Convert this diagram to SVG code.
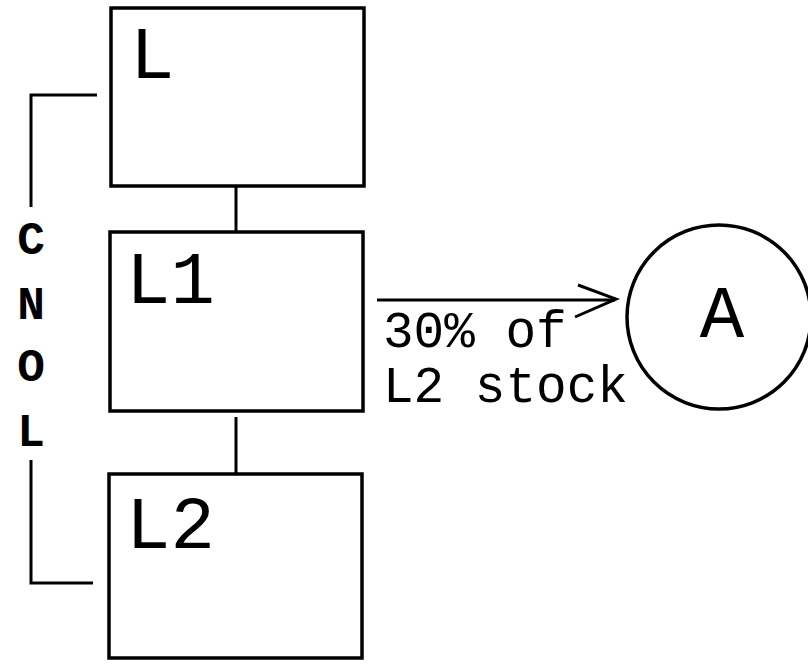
<svg xmlns="http://www.w3.org/2000/svg" width="808" height="664" viewBox="0 0 808 664">
<style>
.box{fill:#fff;stroke:#000;stroke-width:3.5}
.ln{fill:none;stroke:#000;stroke-width:3}
.big{font-family:"Liberation Mono","Courier New",monospace;font-size:74px;fill:#000}
.lab{font-family:"Liberation Mono","Courier New",monospace;font-size:51px;fill:#000}
.side{font-family:"Liberation Mono","Courier New",monospace;font-size:46px;font-weight:bold;fill:#000}
</style>
<rect width="808" height="664" fill="#fff"/>
<g id="connectors">
<line class="ln" x1="236" y1="183" x2="236" y2="232"/>
<line class="ln" x1="236" y1="417" x2="236" y2="474"/>
<polyline class="ln" points="97,95 31,95 31,207"/>
<polyline class="ln" points="31,460 31,583 93,583"/>
<line class="ln" x1="377" y1="300" x2="615" y2="300"/>
<polyline class="ln" stroke-width="4" points="578,285 616,299 575,317"/>
<text class="lab" x="383" y="347">30% of</text>
<text class="lab" x="383" y="402">L2 stock</text>
</g>
<g id="side-label">
<text class="side" x="31" y="254" text-anchor="middle">C</text>
<text class="side" x="31" y="319" text-anchor="middle">N</text>
<text class="side" x="31" y="381" text-anchor="middle">O</text>
<text class="side" x="31" y="446" text-anchor="middle">L</text>
</g>
<g id="node-L">
<rect class="box" x="111" y="8" width="253" height="178"/>
<text class="big" x="130" y="78">L</text>
</g>
<g id="node-L1">
<rect class="box" x="110" y="232" width="253" height="179"/>
<text class="big" x="126" y="303">L1</text>
</g>
<g id="node-L2">
<rect class="box" x="109" y="474" width="253" height="184"/>
<text class="big" x="126" y="548">L2</text>
</g>
<g id="node-A">
<circle class="box" cx="719" cy="317" r="92"/>
<text class="big" x="722" y="337" text-anchor="middle">A</text>
</g>
</svg>
